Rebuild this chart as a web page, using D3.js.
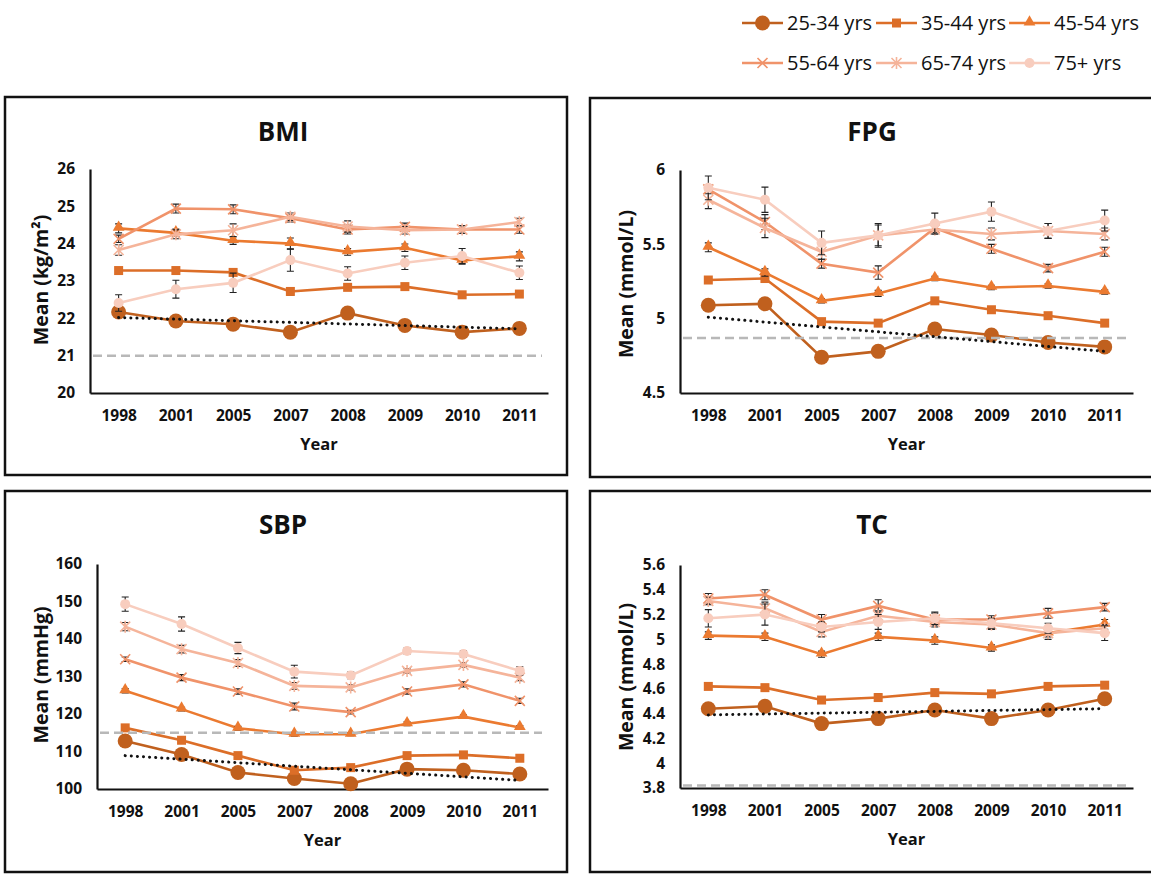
<!DOCTYPE html>
<html lang="en">
<head>
<meta charset="UTF-8">
<title>Trends by age group</title>
<script src="https://cdn.jsdelivr.net/npm/d3@7"></script>
<style>
  body { margin: 0; background: #fff; }
  text { font-family: "Open Sans", "Noto Sans", sans-serif; fill: #111; }
</style>
</head>
<body>
<svg width="1151" height="877"></svg>
<script>
// categories
var years = ["1998", "2001", "2005", "2007", "2008", "2009", "2010", "2011"];
var groups = ["25-34 yrs", "35-44 yrs", "45-54 yrs", "55-64 yrs", "65-74 yrs", "75+ yrs"];
var colors = ["#C0601E", "#DC6E28", "#EB7A30", "#F0936A", "#F5B49A", "#F8CDBE"];
var shapes = ["bigcircle", "square", "triangle", "cross", "star", "circle"];

// BMI (kg/m2)
var bmiMeans = [
  [22.17, 21.93, 21.84, 21.63, 22.14, 21.81, 21.63, 21.73],
  [23.28, 23.28, 23.23, 22.72, 22.83, 22.85, 22.63, 22.65],
  [24.41, 24.29, 24.08, 24.00, 23.78, 23.89, 23.55, 23.66],
  [24.13, 24.94, 24.92, 24.68, 24.38, 24.45, 24.38, 24.38],
  [23.83, 24.25, 24.36, 24.72, 24.46, 24.36, 24.38, 24.58],
  [22.41, 22.78, 22.95, 23.56, 23.20, 23.49, 23.67, 23.22]
];
var bmiErr = [
  [0.06, 0.06, 0.06, 0.07, 0.06, 0.06, 0.06, 0.07],
  [0.07, 0.06, 0.08, 0.10, 0.08, 0.07, 0.07, 0.07],
  [0.12, 0.10, 0.10, 0.15, 0.09, 0.10, 0.10, 0.12],
  [0.10, 0.12, 0.12, 0.10, 0.12, 0.10, 0.10, 0.10],
  [0.14, 0.12, 0.17, 0.10, 0.15, 0.10, 0.10, 0.10],
  [0.22, 0.24, 0.26, 0.30, 0.18, 0.18, 0.20, 0.18]
];
var bmiTicks = [20, 21, 22, 23, 24, 25, 26];
var bmiTrend = [22.02, 21.72];
var bmiRef = 21;

// FPG (mmol/L)
var fpgMeans = [
  [5.09, 5.10, 4.74, 4.78, 4.93, 4.89, 4.84, 4.81],
  [5.26, 5.27, 4.98, 4.97, 5.12, 5.06, 5.02, 4.97],
  [5.48, 5.31, 5.12, 5.17, 5.27, 5.21, 5.22, 5.18],
  [5.87, 5.65, 5.37, 5.31, 5.61, 5.47, 5.34, 5.45],
  [5.80, 5.61, 5.45, 5.56, 5.60, 5.57, 5.59, 5.57],
  [5.88, 5.80, 5.51, 5.56, 5.64, 5.72, 5.59, 5.66]
];
var fpgErr = [
  [0.01, 0.01, 0.01, 0.01, 0.01, 0.01, 0.01, 0.01],
  [0.015, 0.015, 0.015, 0.02, 0.015, 0.015, 0.015, 0.015],
  [0.03, 0.025, 0.015, 0.02, 0.015, 0.015, 0.015, 0.015],
  [0.03, 0.05, 0.03, 0.045, 0.03, 0.03, 0.025, 0.03],
  [0.06, 0.065, 0.05, 0.07, 0.03, 0.04, 0.05, 0.04],
  [0.08, 0.085, 0.08, 0.08, 0.07, 0.065, 0.05, 0.07]
];
var fpgTicks = [4.5, 5, 5.5, 6];
var fpgTrend = [5.01, 4.78];
var fpgRef = 4.87;

// SBP (mmHg)
var sbpMeans = [
  [112.8, 109.2, 104.4, 102.8, 101.4, 105.3, 105.0, 104.0],
  [116.3, 113.0, 108.9, 105.0, 105.7, 108.9, 109.1, 108.2],
  [126.2, 121.3, 116.2, 114.6, 114.6, 117.4, 119.3, 116.4],
  [134.6, 129.7, 126.0, 122.0, 120.5, 126.0, 127.9, 123.5],
  [143.3, 137.3, 133.6, 127.5, 127.1, 131.5, 133.1, 129.7],
  [149.3, 144.0, 137.6, 131.3, 130.3, 136.8, 136.0, 131.5]
];
var sbpErr = [
  [0.4, 0.4, 0.4, 0.4, 0.4, 0.4, 0.4, 0.4],
  [0.4, 0.4, 0.4, 0.4, 0.4, 0.4, 0.4, 0.4],
  [0.6, 0.5, 0.5, 0.5, 0.4, 0.5, 0.5, 0.5],
  [0.6, 0.8, 0.7, 0.9, 0.5, 0.7, 0.7, 0.7],
  [1.1, 1.0, 0.9, 0.9, 0.7, 0.6, 0.6, 0.8],
  [1.9, 1.9, 1.5, 1.7, 0.9, 0.8, 0.9, 1.1]
];
var sbpTicks = [100, 110, 120, 130, 140, 150, 160];
var sbpTrend = [108.9, 102.3];
var sbpRef = 115;

// TC (mmol/L)
var tcMeans = [
  [4.44, 4.46, 4.32, 4.36, 4.43, 4.36, 4.43, 4.52],
  [4.62, 4.61, 4.51, 4.53, 4.57, 4.56, 4.62, 4.63],
  [5.03, 5.02, 4.88, 5.02, 4.99, 4.93, 5.05, 5.12],
  [5.33, 5.36, 5.16, 5.27, 5.16, 5.16, 5.21, 5.26],
  [5.31, 5.25, 5.06, 5.19, 5.14, 5.12, 5.05, 5.09],
  [5.17, 5.20, 5.10, 5.14, 5.17, 5.13, 5.09, 5.05]
];
var tcErr = [
  [0.02, 0.02, 0.02, 0.02, 0.02, 0.02, 0.02, 0.02],
  [0.02, 0.015, 0.02, 0.03, 0.015, 0.015, 0.015, 0.02],
  [0.03, 0.03, 0.025, 0.03, 0.03, 0.025, 0.03, 0.04],
  [0.04, 0.04, 0.04, 0.05, 0.05, 0.03, 0.04, 0.03],
  [0.03, 0.05, 0.04, 0.04, 0.04, 0.04, 0.05, 0.03],
  [0.07, 0.085, 0.04, 0.06, 0.05, 0.04, 0.04, 0.06]
];
var tcTicks = [3.8, 4, 4.2, 4.4, 4.6, 4.8, 5, 5.2, 5.4, 5.6];
var tcTrend = [4.39, 4.44];
var tcRef = 3.82;

// panel layout (boxes, plot areas)
var panels = [
  { title: "BMI", yTitle: "Mean (kg/m²)", means: bmiMeans, err: bmiErr, ticks: bmiTicks, trend: bmiTrend, ref: bmiRef,
    box: [5, 97, 562, 378], x0: 90, x1: 548, yTop: 169, yBot: 393, titleX: 283, titleY: 132, yTitleX: 41, yTitleY: 280 },
  { title: "FPG", yTitle: "Mean (mmol/L)", means: fpgMeans, err: fpgErr, ticks: fpgTicks, trend: fpgTrend, ref: fpgRef,
    box: [590, 98, 600, 379], x0: 680, x1: 1133, yTop: 170, yBot: 393, titleX: 872, titleY: 132, yTitleX: 626, yTitleY: 284 },
  { title: "SBP", yTitle: "Mean (mmHg)", means: sbpMeans, err: sbpErr, ticks: sbpTicks, trend: sbpTrend, ref: sbpRef,
    box: [5, 491, 562, 381], x0: 97, x1: 548, yTop: 564, yBot: 789, titleX: 283, titleY: 525, yTitleX: 41, yTitleY: 675 },
  { title: "TC", yTitle: "Mean (mmol/L)", means: tcMeans, err: tcErr, ticks: tcTicks, trend: tcTrend, ref: tcRef,
    box: [590, 491, 600, 381], x0: 680, x1: 1133, yTop: 565, yBot: 788, titleX: 872, titleY: 525, yTitleX: 626, yTitleY: 677 }
];

var svg = d3.select("svg");

// draws one marker of the given shape
function marker(g, shape, color, x, y) {
  if (shape === "bigcircle") {
    g.append("circle").attr("cx", x).attr("cy", y).attr("r", 7.5).attr("fill", color);
  } else if (shape === "circle") {
    g.append("circle").attr("cx", x).attr("cy", y).attr("r", 5).attr("fill", color);
  } else if (shape === "square") {
    g.append("rect").attr("x", x - 4.5).attr("y", y - 4.5).attr("width", 9).attr("height", 9).attr("fill", color);
  } else if (shape === "triangle") {
    g.append("path").attr("d", d3.symbol(d3.symbolTriangle, 60)())
      .attr("transform", "translate(" + x + "," + (y - 1) + ")").attr("fill", color);
  } else if (shape === "cross") {
    g.append("path").attr("d", "M-5,-5L5,5M-5,5L5,-5")
      .attr("transform", "translate(" + x + "," + y + ")")
      .attr("stroke", color).attr("stroke-width", 1.6).attr("fill", "none");
  } else if (shape === "star") {
    g.append("path").attr("d", "M-5,-5L5,5M-5,5L5,-5M0,-6V6")
      .attr("transform", "translate(" + x + "," + y + ")")
      .attr("stroke", color).attr("stroke-width", 1.6).attr("fill", "none");
  }
}

panels.forEach(function (p) {
  var g = svg.append("g");

  g.append("rect")
    .attr("x", p.box[0]).attr("y", p.box[1])
    .attr("width", p.box[2]).attr("height", p.box[3])
    .attr("fill", "none").attr("stroke", "#111").attr("stroke-width", 2.5);

  var x = d3.scalePoint().domain(years).range([p.x0, p.x1]).padding(0.5);
  var y = d3.scaleLinear().domain([p.ticks[0], p.ticks[p.ticks.length - 1]]).range([p.yBot, p.yTop]);

  // axes
  var ax = g.append("g").attr("transform", "translate(0," + p.yBot + ")")
    .call(d3.axisBottom(x).tickSize(0).tickSizeOuter(0).tickPadding(17));
  var ay = g.append("g").attr("transform", "translate(" + p.x0 + ",0)")
    .call(d3.axisLeft(y).tickValues(p.ticks).tickFormat(d3.format("~g")).tickSize(0).tickSizeOuter(0).tickPadding(15));
  [ax, ay].forEach(function (a) {
    a.select(".domain").attr("stroke", "#111").attr("stroke-width", 2.2);
    a.selectAll("text").attr("font-size", 15.5).attr("font-weight", 700).attr("fill", "#111")
      .style("font-family", '"Open Sans", sans-serif');
  });

  // titles
  g.append("text").attr("x", p.titleX).attr("y", p.titleY + 9)
    .attr("text-anchor", "middle").attr("font-size", 26).attr("font-weight", 700).text(p.title);
  g.append("text").attr("x", (p.x0 + p.x1) / 2).attr("y", p.yBot + 57)
    .attr("text-anchor", "middle").attr("font-size", 16.5).attr("font-weight", 700).text("Year");
  g.append("text")
    .attr("transform", "translate(" + (p.yTitleX + 7) + "," + p.yTitleY + ") rotate(-90)")
    .attr("text-anchor", "middle").attr("font-size", 19.5).attr("font-weight", 700).text(p.yTitle);

  var line = d3.line().x(function (d, i) { return x(years[i]); }).y(function (d) { return y(d); });

  // series
  p.means.forEach(function (vals, s) {
    var sg = g.append("g");
    sg.append("path").datum(vals).attr("d", line)
      .attr("fill", "none").attr("stroke", colors[s]).attr("stroke-width", 2.6);
    vals.forEach(function (v, i) {
      var cx = x(years[i]), e = p.err[s][i];
      sg.append("path")
        .attr("d", "M" + (cx - 3.5) + "," + y(v + e) + "H" + (cx + 3.5) +
          "M" + cx + "," + y(v + e) + "V" + y(v - e) +
          "M" + (cx - 3.5) + "," + y(v - e) + "H" + (cx + 3.5))
        .attr("stroke", "#222").attr("stroke-width", 1.1).attr("fill", "none");
    });
    vals.forEach(function (v, i) {
      marker(sg, shapes[s], colors[s], x(years[i]), y(v));
    });
  });

  // reference line
  g.append("line")
    .attr("x1", p.x0 + 3).attr("x2", p.x1 - 6)
    .attr("y1", y(p.ref)).attr("y2", y(p.ref))
    .attr("stroke", "#B8B8B8").attr("stroke-width", 2.5).attr("stroke-dasharray", "9,5");

  // linear trend of youngest group
  g.append("line")
    .attr("x1", x(years[0])).attr("x2", x(years[years.length - 1]))
    .attr("y1", y(p.trend[0])).attr("y2", y(p.trend[1]))
    .attr("stroke", "#111").attr("stroke-width", 3).attr("stroke-linecap", "round")
    .attr("stroke-dasharray", "0.1,6");
});

// legend
var legX = [742, 876, 1009];
var legY = [23, 63];
groups.forEach(function (name, i) {
  var lx = legX[i % 3], ly = legY[Math.floor(i / 3)];
  var lg = svg.append("g");
  lg.append("line").attr("x1", lx).attr("x2", lx + 41).attr("y1", ly).attr("y2", ly)
    .attr("stroke", colors[i]).attr("stroke-width", 2.6);
  marker(lg, shapes[i], colors[i], lx + 20.5, ly);
  lg.append("text").attr("x", lx + 45).attr("y", ly + 7)
    .attr("font-size", 20).attr("fill", "#222").text(name);
});
</script>
</body>
</html>
